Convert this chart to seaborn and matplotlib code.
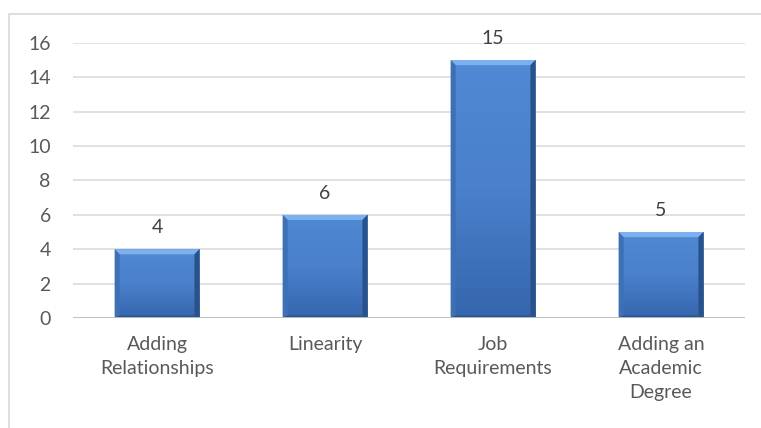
import numpy as np
import pandas as pd
import matplotlib.pyplot as plt
import matplotlib.patches as mpatches
from matplotlib.colors import LinearSegmentedColormap
import seaborn as sns

categories = ["Adding\nRelationships", "Linearity", "Job\nRequirements",
              "Adding an\nAcademic\nDegree"]
values = [4, 6, 15, 5]
yticks = [0, 2, 4, 6, 8, 10, 12, 14, 16]

sns.set_theme(style="white")
plt.rcParams["font.family"] = ["Lato", "DejaVu Sans"]

df = pd.DataFrame({"category": categories, "value": values})

fig = plt.figure(figsize=(7.61, 4.28), dpi=100)
ax = fig.add_axes([0.096, 0.257, 0.883, 0.643])

sns.barplot(data=df, x="category", y="value", color="#4479c2", width=0.505,
            saturation=1, ax=ax, zorder=3)

# gradient + bevel on each bar
grad = np.linspace(0, 1, 256).reshape(-1, 1)
cmap = LinearSegmentedColormap.from_list("b", ["#3566ad", "#4a80cc", "#5089d4"])
for p in ax.patches:
    x0, w, h = p.get_x(), p.get_width(), p.get_height()
    p.set_edgecolor("none")
    im = ax.imshow(grad, extent=[x0, x0 + w, 0, h], origin="lower", aspect="auto",
                   cmap=cmap, zorder=4)
    im.set_clip_path(p)
    dx, dy = 0.03, 0.3
    top = [(x0, h), (x0 + w, h), (x0 + w - dx, h - dy), (x0 + dx, h - dy)]
    right = [(x0 + w, h), (x0 + w, 0), (x0 + w - dx, dy * 0.5), (x0 + w - dx, h - dy)]
    left = [(x0, h), (x0, 0), (x0 + dx, dy * 0.5), (x0 + dx, h - dy)]
    bottom = [(x0, 0), (x0 + w, 0), (x0 + w - dx, dy * 0.5), (x0 + dx, dy * 0.5)]
    for pts, c in [(top, "#7cb0ee"), (right, "#2a528a"), (left, "#3d70b5"),
                   (bottom, "#2a5590")]:
        ax.add_patch(mpatches.Polygon(pts, closed=True, facecolor=c,
                                      edgecolor="none", zorder=5))
    ax.text(x0 + w / 2, h + 0.75, f"{int(h)}", ha="center", va="bottom",
            fontsize=14, color="#404040")

ax.set_ylim(0, 16)
ax.set_xlim(-0.5, 3.5)
ax.set_yticks(yticks)
ax.yaxis.grid(True, color="#d9d9d9", linewidth=1.1, zorder=0)
ax.set_axisbelow(True)
ax.axhline(0, color="#bfbfbf", linewidth=1.3, zorder=6)
for s in ax.spines.values():
    s.set_visible(False)
ax.set_xlabel("")
ax.set_ylabel("")
ax.tick_params(axis="y", length=0, pad=16, labelsize=14, labelcolor="#595959")
ax.tick_params(axis="x", length=0, pad=13, labelsize=14, labelcolor="#595959")
for lbl in ax.get_xticklabels():
    lbl.set_linespacing(1.5)

# chart border
fig.add_artist(mpatches.Rectangle((9 / 761, -0.1), 1.1, (428 - 14) / 428 + 0.1,
                                  transform=fig.transFigure, fill=False,
                                  edgecolor="#d9d9d9", linewidth=1.2))

fig.savefig("out.png", dpi=100)
